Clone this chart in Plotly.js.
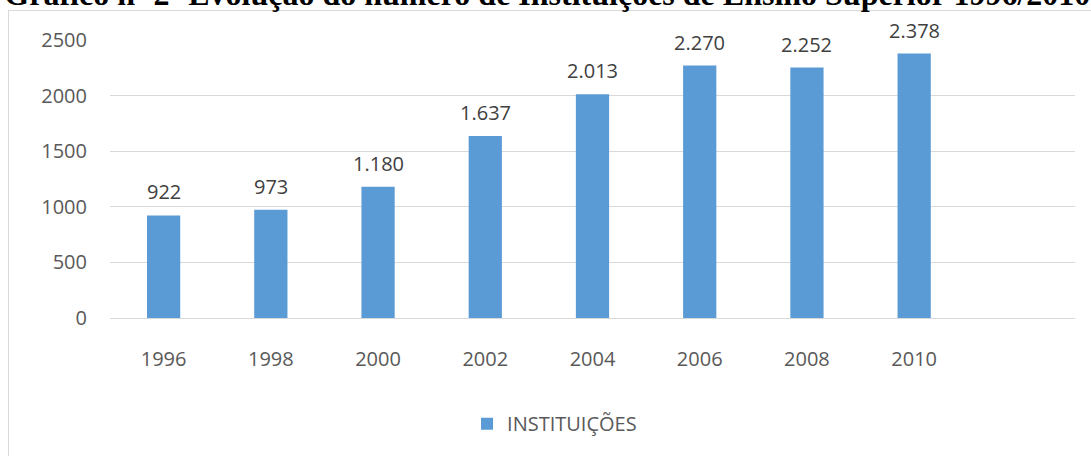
<!DOCTYPE html>
<html>
<head>
<meta charset="utf-8">
<script src="https://cdn.plot.ly/plotly-3.0.1.min.js"></script>
<style>
html,body{margin:0;padding:0;background:#fff;}
#wrap{position:relative;width:1091px;height:456px;overflow:hidden;}
#frame{position:absolute;left:8px;top:10px;width:1100px;height:460px;border:1px solid #d9d9d9;box-sizing:border-box;}
#chart{position:absolute;left:0;top:0;width:1091px;height:456px;}
</style>
</head>
<body>
<div id="wrap"><div id="frame"></div><div id="chart"></div></div>
<script>
const years = ['1996','1998','2000','2002','2004','2006','2008','2010'];
const institutions = [922, 973, 1180, 1637, 2013, 2270, 2252, 2378];
const valueLabels = ['922','973','1.180','1.637','2.013','2.270','2.252','2.378'];
const seriesName = 'INSTITUIÇÕES';
const titleText = 'Gráfico nº 2- Evolução do número de Instituições de Ensino Superior 1996/2010';

const font = 'Open Sans, sans-serif';
const trace = {
  type: 'bar', x: years, y: institutions, name: seriesName,
  marker: {color: '#5b9bd5'}, hoverinfo: 'none'
};
const annotations = years.map((yr, i) => ({
  x: i, y: institutions[i], text: valueLabels[i], showarrow: false,
  xref: 'x', yref: 'y', yanchor: 'bottom', yshift: 8,
  font: {family: font, size: 20, color: '#404040'}
}));
const layout = {
  width: 1091, height: 456,
  paper_bgcolor: 'rgba(0,0,0,0)', plot_bgcolor: 'rgba(0,0,0,0)',
  margin: {l: 110, r: 16, t: 39.5, b: 137.5},
  title: {text: '<b>' + titleText + '</b>', font: {family: 'Liberation Serif, serif', size: 32, color: '#000'},
          x: 0.004, xanchor: 'left', xref: 'container', y: 1 - 5/456, yanchor: 'bottom', yref: 'container'},
  bargap: 0.69,
  xaxis: {type: 'category', range: [-0.5, 8.5], showgrid: false, showline: false, zeroline: false,
          ticks: '', ticklabelstandoff: 27, tickfont: {family: font, size: 20, color: '#595959'}},
  yaxis: {range: [0, 2500], tickvals: [0, 500, 1000, 1500, 2000, 2500], showgrid: true, gridcolor: '#d9d9d9',
          gridwidth: 1, zeroline: true, zerolinecolor: '#d9d9d9', zerolinewidth: 1, showline: false,
          ticks: '', ticklabelstandoff: 22, tickfont: {family: font, size: 20, color: '#595959'}},
  showlegend: true,
  legend: {orientation: 'h', x: 0.37, xanchor: 'left', y: -0.38, yanchor: 'middle',
           font: {family: font, size: 20, color: '#595959'}},
  annotations: annotations
};
Plotly.newPlot('chart', [trace], layout, {displayModeBar: false, staticPlot: true});
</script>
</body>
</html>
